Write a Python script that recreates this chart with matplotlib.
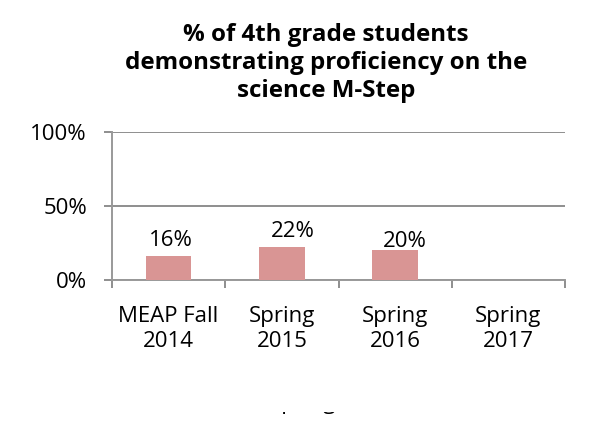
import matplotlib
matplotlib.use("Agg")
import matplotlib.pyplot as plt
from matplotlib.patches import Rectangle
from matplotlib.ticker import PercentFormatter, FixedLocator

categories = ["MEAP Fall\n2014", "Spring\n2015", "Spring\n2016", "Spring\n2017"]
values = [0.16, 0.22, 0.20, None]
labels = ["16%", "22%", "20%", None]
title = "% of 4th grade students\ndemonstrating proficiency on the\nscience M-Step"

plt.rcParams['font.family'] = ['Open Sans', 'DejaVu Sans']
W, H = 592, 432
fig = plt.figure(figsize=(W/100, H/100), dpi=100)
ax = fig.add_axes([112/W, 1-280/H, (565-112)/W, (280-132)/H])

gray = "#868686"
xs = list(range(len(categories)))
for x, v in zip(xs, values):
    if v is not None:
        ax.bar(x, v, width=0.4, color="#D99594", zorder=3)

ax.set_xlim(-0.5, len(categories)-0.5)
ax.set_ylim(0, 1)
ax.yaxis.set_major_locator(FixedLocator([0, 0.5, 1.0]))
ax.yaxis.set_major_formatter(PercentFormatter(1.0, decimals=0))
ax.set_xticks(xs)
ax.set_xticklabels(categories, fontsize=16, linespacing=1.28)
ax.set_xticks([x - 0.5 for x in xs] + [len(xs)-0.5], minor=True)
ax.tick_params(axis='x', which='major', length=0, pad=18.6)
ax.tick_params(axis='x', which='minor', length=6, color=gray, width=1.3, direction='out')
ax.tick_params(axis='y', length=6, color=gray, width=1.3, direction='out', labelsize=16, pad=12)
ax.yaxis.grid(True, color=gray, linewidth=1.3, zorder=0)
for s in ['top', 'right']:
    ax.spines[s].set_visible(False)
for s in ['left', 'bottom']:
    ax.spines[s].set_color("#999999")
    ax.spines[s].set_linewidth(1.4)

offsets = [(1.8, 7.2), (8, 7.2), (7.2, 2.2)]
for x, v, lab, off in zip(xs, values, labels, offsets + [(0, 0)]):
    if v is not None:
        ax.annotate(lab, (x, v), xytext=off, textcoords='offset points',
                    ha='center', va='baseline', fontsize=16, zorder=4)

fig.text(326/W, 1-63/H, title, ha='center', va='center', fontsize=17.4,
         fontweight='bold', linespacing=1.22)

# partially visible label at bottom, clipped
t = fig.text(303/W, 1-409/H, "Spring", ha='center', va='baseline', fontsize=16)
clip = Rectangle((0, 0), W, 432-411.5, transform=None)
t.set_clip_path(clip)

fig.savefig("out.png", dpi=100)
